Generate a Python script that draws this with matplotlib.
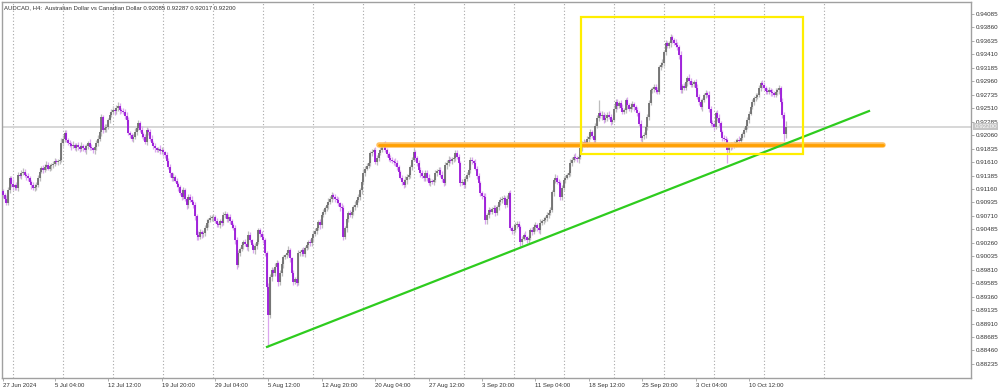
import numpy as np
import matplotlib.pyplot as plt

plt.rcParams['font.family'] = ['Liberation Sans', 'DejaVu Sans']

# AUDCAD H4 closes, in pips (x 1e-4)
close_a = [9106, 9100, 9093, 9115, 9134, 9125, 9119, 9122, 9118, 9140,
           9138, 9142, 9145, 9140, 9137, 9134, 9128, 9122, 9118, 9120,
           9123, 9135, 9145, 9151, 9148, 9153, 9156, 9150, 9154, 9156,
           9158, 9162, 9161, 9163, 9165, 9193, 9200, 9210, 9198, 9193,
           9191, 9188, 9190, 9185, 9189, 9186, 9183, 9188, 9185, 9181,
           9188, 9193, 9186, 9184, 9181, 9186, 9193, 9200, 9211, 9236,
           9215, 9218, 9220, 9232, 9240, 9244, 9248, 9246, 9251, 9255,
           9248, 9246, 9245, 9238, 9231, 9210, 9206, 9200, 9203, 9212,
           9218, 9226, 9215, 9208, 9203, 9195, 9215, 9211, 9200, 9193,
           9188, 9184, 9181, 9183, 9179, 9181, 9177, 9173, 9163, 9153,
           9142, 9134, 9136, 9130, 9125, 9119, 9110, 9103, 9114, 9100,
           9089, 9103, 9098, 9094, 9089, 9070, 9039, 9036, 9044, 9040]
close_b = [9042, 9050, 9059, 9064, 9067, 9069, 9069, 9062, 9058, 9056,
           9062, 9059, 9072, 9075, 9066, 9069, 9062, 9056, 9051, 9030,
           8989, 9009, 9015, 9022, 9027, 9024, 9019, 9039, 9030, 9022,
           9014, 9020, 9027, 9047, 9040, 9036, 9031, 9009, 8952, 8905,
           8969, 8980, 8975, 8985, 8992, 8960, 8975, 8990, 9002, 9005,
           9009, 9014, 9000, 8975, 8960, 8965, 8959, 9009, 9010, 9014,
           9008, 9017, 9022, 9028, 9025, 9034, 9040, 9045, 9051, 9060,
           9055, 9072, 9078, 9084, 9089, 9095, 9100, 9106, 9103, 9100,
           9098, 9092, 9086, 9084, 9036, 9050, 9065, 9076, 9072, 9078,
           9086, 9090, 9098, 9103, 9114, 9128, 9143, 9150, 9155, 9160,
           9176, 9178, 9181, 9161, 9168, 9176, 9182, 9186, 9190, 9181,
           9175, 9168, 9165, 9163, 9161, 9160, 9152, 9145, 9135, 9128]
close_c = [9123, 9131, 9136, 9140, 9152, 9165, 9178, 9168, 9160, 9148,
           9142, 9138, 9134, 9143, 9135, 9126, 9130, 9128, 9131, 9143,
           9146, 9148, 9140, 9133, 9126, 9156, 9160, 9165, 9162, 9166,
           9168, 9176, 9170, 9160, 9126, 9128, 9123, 9132, 9140, 9148,
           9165, 9162, 9160, 9150, 9138, 9126, 9109, 9105, 9103, 9064,
           9072, 9081, 9078, 9082, 9084, 9076, 9086, 9094, 9098, 9100,
           9101, 9089, 9100, 9109, 9051, 9045, 9047, 9055, 9058, 9052,
           9027, 9033, 9039, 9035, 9030, 9034, 9047, 9044, 9052, 9056,
           9050, 9047, 9059, 9062, 9064, 9068, 9072, 9076, 9081, 9111,
           9131, 9135, 9128, 9126, 9103, 9118, 9131, 9135, 9140, 9143,
           9160, 9165, 9170, 9168, 9166, 9170, 9185, 9190, 9195, 9193,
           9200, 9203, 9211, 9205, 9198, 9222, 9235, 9243, 9238, 9240]
close_d = [9232, 9235, 9240, 9236, 9228, 9231, 9250, 9262, 9255, 9260,
           9252, 9245, 9248, 9265, 9256, 9250, 9253, 9258, 9253, 9248,
           9243, 9225, 9201, 9204, 9206, 9220, 9236, 9260, 9281, 9283,
           9286, 9282, 9278, 9320, 9324, 9327, 9345, 9360, 9355, 9360,
           9370, 9365, 9360, 9357, 9353, 9340, 9281, 9288, 9285, 9295,
           9302, 9296, 9290, 9292, 9295, 9285, 9270, 9262, 9253, 9265,
           9273, 9276, 9273, 9250, 9226, 9224, 9220, 9243, 9235, 9226,
           9212, 9201, 9200, 9198, 9181, 9186, 9190, 9188, 9193, 9195,
           9198, 9196, 9201, 9208, 9215, 9222, 9231, 9242, 9253, 9262,
           9268, 9270, 9273, 9285, 9293, 9290, 9285, 9280, 9278, 9282,
           9278, 9276, 9273, 9278, 9281, 9285, 9262, 9240, 9208.5, 9220]
first_open = 9112

# wick lengths above / below the body, pips
wick_up_a = [4,3,6,5,3,4,7,3,5,4, 3,5,6,4,3,5,4,3,6,5, 4,5,6,3,5,4,6,5,3,4, 5,6,4,3,5,8,6,5,4,3,
             5,4,6,3,4,5,3,6,4,5, 3,4,6,5,3,4,5,6,4,5, 4,6,5,3,4,5,6,4,5,7, 4,3,5,4,6,5,3,4,5,6,
             4,5,3,6,4,5,4,3,5,6, 4,5,3,4,6,5,4,3,5,4, 5,3,6,4,5,3,4,6,5,4, 3,5,4,6,3,5,4,6,5,4]
wick_up_b = [3,5,6,4,5,3,6,4,5,3, 4,6,5,4,3,5,6,4,3,5, 6,5,4,6,3,5,4,7,5,3, 4,6,5,4,3,5,4,3,4,6,
             5,6,4,7,5,4,6,5,4,3, 5,6,4,3,5,4,6,5,4,3, 5,4,6,3,5,4,6,5,3,4, 6,5,4,3,5,6,4,5,3,4,
             5,4,3,6,5,4,6,3,5,4, 3,6,5,4,3,5,6,4,5,3, 4,5,3,6,4,5,4,3,5,6, 4,3,5,4,3,6,5,4,3,5]
wick_up_c = [4,6,5,3,4,5,6,4,3,5, 4,6,3,5,4,6,5,3,4,5, 3,5,4,6,3,5,4,6,5,3, 4,5,6,4,3,5,4,6,5,3,
             4,5,3,6,4,5,4,3,5,6, 4,5,3,4,6,5,4,3,5,4, 5,3,6,4,5,3,4,6,5,4, 3,5,4,6,3,5,4,6,5,4,
             3,5,6,4,5,3,6,4,5,3, 4,6,5,4,3,5,6,4,3,5, 6,5,4,6,3,5,4,7,5,3, 4,6,5,4,3,5,4,22,4,6]
wick_up_d = [5,6,4,7,5,4,6,5,4,3, 5,6,4,3,5,4,6,5,4,3, 5,4,6,3,5,4,6,5,3,4, 6,5,4,3,5,6,4,5,3,4,
             5,4,3,6,5,4,6,3,5,4, 3,6,5,4,3,5,6,4,5,3, 4,5,3,6,4,5,4,3,5,6, 4,3,5,4,3,6,5,4,3,5,
             4,6,5,3,4,5,6,4,3,5, 4,6,3,5,4,6,5,3,4,5, 3,5,4,6,3,5,4,6,5,9]
wick_dn_a = [5,6,4,3,5,6,4,5,3,6, 4,5,3,4,6,5,4,6,3,5, 6,4,5,3,6,4,5,3,4,6, 5,4,3,5,6,4,5,6,4,3,
             5,6,3,4,5,4,6,3,5,4, 6,5,4,3,5,6,4,5,3,6, 5,4,6,3,5,4,3,6,5,4, 6,3,4,5,6,4,5,3,6,4,
             5,3,4,6,5,4,6,5,3,4, 5,6,4,3,5,4,6,5,3,4, 6,5,4,3,5,6,4,5,3,4, 6,5,4,3,5,6,9,5,4,6]
wick_dn_b = [4,5,3,6,4,5,6,3,5,4, 6,5,3,4,5,6,4,5,3,6, 6,4,5,3,6,4,5,6,3,4, 5,6,4,3,5,4,6,5,4,53,
             5,6,4,5,3,6,4,5,6,3, 4,5,6,4,5,3,6,4,5,6, 4,5,3,6,4,5,6,3,5,4, 6,5,3,4,5,6,4,5,3,6,
             5,4,6,3,5,4,6,5,3,4, 6,5,4,3,5,6,4,5,3,4, 6,5,4,3,5,6,4,5,3,4, 6,5,4,3,5,6,4,5,3,6]
wick_dn_c = [5,4,6,3,5,4,3,6,5,4, 6,3,4,5,6,4,5,3,6,4, 5,3,4,6,5,4,6,5,3,4, 5,6,4,3,5,4,6,5,3,4,
             6,5,4,3,5,6,4,5,3,7, 6,5,4,3,5,6,4,5,4,6, 4,5,3,6,4,5,6,3,5,4, 9,5,3,4,5,6,4,5,3,6,
             5,4,6,3,5,4,6,5,3,4, 6,5,4,3,5,6,4,5,3,4, 6,5,4,3,5,6,4,5,3,4, 6,5,4,3,5,6,4,5,3,6]
wick_dn_d = [5,4,6,3,5,4,3,6,5,4, 6,3,4,5,6,4,5,3,6,4, 5,3,4,6,5,4,6,5,3,4, 5,6,4,3,5,4,6,5,3,4,
             6,5,4,3,5,6,4,5,3,4, 6,5,4,3,5,6,4,5,3,6, 4,5,3,6,4,5,6,3,5,4, 6,5,3,4,21,6,4,5,3,6,
             5,4,6,3,5,4,6,5,3,4, 6,5,4,3,5,6,4,5,3,4, 6,5,4,3,5,6,4,5,13,7]

price_levels = [0.94085 - 0.00225 * k for k in range(27)]
time_labels = ['27 Jun 2024', '5 Jul 04:00', '12 Jul 12:00', '19 Jul 20:00', '29 Jul 04:00',
               '5 Aug 12:00', '12 Aug 20:00', '20 Aug 04:00', '27 Aug 12:00', '3 Sep 20:00',
               '11 Sep 04:00', '18 Sep 12:00', '25 Sep 20:00', '3 Oct 04:00', '10 Oct 12:00']
time_label_bars = [0] + [31 + 32 * k for k in range(14)]

# drawn objects: resistance level, trend line, box
level_price = 0.9190
level_bars = [225.5, 527.5]
trend_bars = [158.2, 518.9]
trend_prices = [0.8852, 0.92463]
box_bars = [346.3, 479.3]
box_prices = [0.91745, 0.94040]
last_price = 0.92200

closes = np.array(close_a + close_b + close_c + close_d) / 10000
opens = np.r_[first_open / 10000, closes[:-1]]
highs = np.maximum(opens, closes) + np.array(wick_up_a + wick_up_b + wick_up_c + wick_up_d) / 10000
lows = np.minimum(opens, closes) - np.array(wick_dn_a + wick_dn_b + wick_dn_c + wick_dn_d) / 10000
x = np.arange(len(closes))
up = closes >= opens

fig = plt.figure(figsize=(10, 3.88), dpi=100)
ax = fig.add_axes([0.002, 10 / 388, 0.969, 376 / 388])

# vertical dotted grid
for g in list(range(6, 460, 30)) + [492]:
    ax.axvline(g, color='#a8a8a8', lw=0.8, ls=(0, (1, 2)), zorder=0)

# current price line
ax.axhline(last_price, color='#d4d4d4', lw=1.3, zorder=1)

# candles
ax.vlines(x[up], lows[up], highs[up], color='#bdbdbd', lw=0.9, zorder=2)
ax.vlines(x[~up], lows[~up], highs[~up], color='#dba6ef', lw=0.9, zorder=2)
bt = np.maximum(opens, closes)
bb = np.minimum(opens, closes)
bt = np.maximum(bt, bb + 0.00005)
ax.vlines(x[up], bb[up], bt[up], color='#6e6e6e', lw=1.3, zorder=3)
ax.vlines(x[~up], bb[~up], bt[~up], color='#9a16d8', lw=1.3, zorder=3)

# user objects
ax.plot(level_bars, [level_price] * 2, color='#ffc060', lw=4.0, solid_capstyle='round', zorder=4)
ax.plot(level_bars, [level_price] * 2, color='#ffa000', lw=2.0, solid_capstyle='round', zorder=4)
ax.plot(trend_bars, trend_prices, color='#2ecc1e', lw=1.6, zorder=4)
ax.add_patch(plt.Rectangle((box_bars[0], box_prices[0]), box_bars[1] - box_bars[0],
                           box_prices[1] - box_prices[0], fill=False, ec='#ffee00', lw=1.6, zorder=4))

ax.set_xlim(-0.6, 580.0)
ax.set_ylim(0.88000, 0.94286)

for s in ax.spines.values():
    s.set_color('#a0a0a0')
    s.set_linewidth(1.0)

ax.yaxis.tick_right()
ax.set_yticks(price_levels)
ax.set_yticklabels(['%.5f' % p for p in price_levels])
ax.set_xticks(time_label_bars)
ax.set_xticklabels(time_labels, ha='left')
ax.tick_params(axis='y', labelsize=4.5, colors='#333333', length=2.5, width=0.6, pad=1)
ax.tick_params(axis='x', labelsize=4.3, colors='#333333', length=2.5, width=0.6, pad=1)
ax.tick_params(axis='both', color='#a0a0a0')

ax.text(1.0035, last_price, '%.5f' % last_price, transform=ax.get_yaxis_transform(),
        fontsize=4.5, color='white', va='center', ha='left',
        bbox=dict(boxstyle='square,pad=0.15', fc='#c4c4c4', ec='none'), zorder=6)

ax.text(0.002, 0.992, 'AUDCAD, H4:  Australian Dollar vs Canadian Dollar 0.92085 0.92287 0.92017 0.92200',
        transform=ax.transAxes, fontsize=4.3, color='#333333', va='top', ha='left')

fig.savefig('out.png', dpi=100)
